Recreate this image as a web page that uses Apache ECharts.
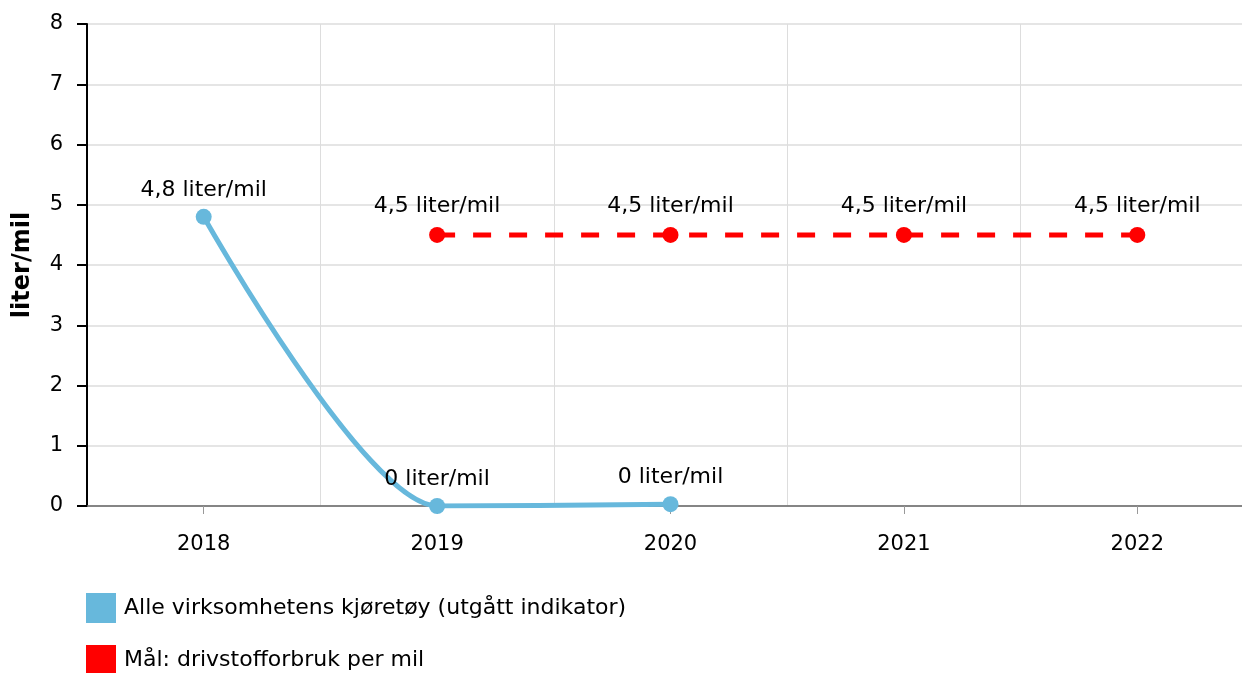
<!DOCTYPE html>
<html>
<head>
<meta charset="utf-8">
<script src="https://cdn.jsdelivr.net/npm/echarts@6/dist/echarts.min.js"></script>
<style>html,body{margin:0;padding:0;background:#fff;overflow:hidden;width:1242px;height:673px}#c{width:1254px;height:673px}</style>
</head>
<body>
<div id="c"></div>
<script>
var categories = ['2018', '2019', '2020', '2021', '2022'];
var vehiclesValues = [4.8, 0, 0.03, null, null];
var targetValues = [null, 4.5, 4.5, 4.5, 4.5];
var yTicks = [0, 1, 2, 3, 4, 5, 6, 7, 8];
var seriesNames = ['Alle virksomhetens kjøretøy (utgått indikator)', 'Mål: drivstofforbruk per mil'];
var unitLabel = 'liter/mil';

var FONT = 'DejaVu Sans';
function fmt(v) {
  var r = Math.round(v * 10) / 10;
  var s = (r % 1 === 0) ? String(r) : r.toFixed(1);
  return s.replace('.', ',') + ' ' + unitLabel;
}
var chart = echarts.init(document.getElementById('c'), null, {renderer: 'canvas'});
chart.setOption({
  animation: false,
  textStyle: {fontFamily: FONT},
  grid: {left: 87, top: 24, right: 0, bottom: 167, containLabel: false},
  legend: {
    orient: 'vertical', left: 81, top: 588, height: 120,
    itemWidth: 30, itemHeight: 30, itemGap: 22,
    icon: 'rect',
    textStyle: {fontFamily: FONT, fontSize: 22, color: '#000', padding: [0, 0, 0, 3]},
    data: seriesNames
  },
  xAxis: {
    type: 'category', data: categories, boundaryGap: true,
    axisLine: {lineStyle: {color: '#666', width: 1.5}},
    axisTick: {show: true, alignWithLabel: true, length: 8, lineStyle: {color: '#999', width: 1}},
    axisLabel: {fontFamily: FONT, fontSize: 21, color: '#000', margin: 28},
    splitLine: {show: true, lineStyle: {color: '#ddd', width: 1}}
  },
  yAxis: {
    type: 'value', min: yTicks[0], max: yTicks[yTicks.length - 1], interval: 1,
    name: unitLabel, nameLocation: 'middle', nameGap: 52,
    nameTextStyle: {fontFamily: FONT, fontSize: 24, fontWeight: 'bold', color: '#000'},
    axisLine: {show: true, lineStyle: {color: '#000', width: 2}},
    axisTick: {show: true, length: 10, lineStyle: {color: '#000', width: 2}},
    axisLabel: {fontFamily: FONT, fontSize: 21, color: '#000', margin: 24},
    splitLine: {show: true, lineStyle: {color: '#ddd', width: 1.5}}
  },
  series: [
    {
      name: seriesNames[0], type: 'line', data: vehiclesValues,
      smooth: 0.3, smoothMonotone: 'x',
      clip: true, connectNulls: false,
      symbol: 'circle', symbolSize: 16,
      lineStyle: {color: '#67b8dc', width: 5},
      itemStyle: {color: '#67b8dc'},
      label: {show: true, position: 'top', distance: 8, fontFamily: FONT, fontSize: 22, color: '#000',
        formatter: function (p) { return fmt(p.value); }},
      z: 3
    },
    {
      name: seriesNames[1], type: 'line', data: targetValues,
      symbol: 'circle', symbolSize: 16,
      lineStyle: {color: '#ff0000', width: 5, type: [18, 18]},
      itemStyle: {color: '#ff0000'},
      label: {show: true, position: 'top', distance: 10, fontFamily: FONT, fontSize: 22, color: '#000',
        formatter: function (p) { return fmt(p.value); }},
      z: 4
    }
  ]
});
</script>
</body>
</html>
